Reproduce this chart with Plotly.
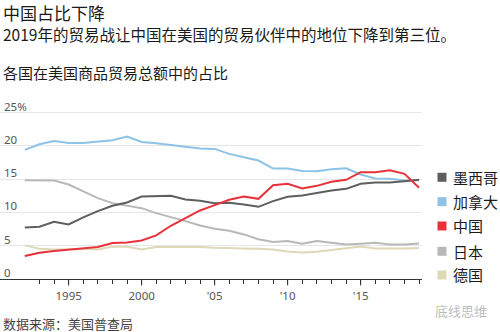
import plotly.graph_objects as go

years = list(range(1992, 2020))

canada = [19.4, 20.25, 20.75, 20.45, 20.45, 20.6, 20.85, 21.4, 20.6, 20.4,
          20.1, 19.85, 19.6, 19.55, 18.8, 18.3, 17.8, 16.6, 16.6, 16.25,
          16.2, 16.5, 16.65, 15.7, 15.1, 15.05, 14.8, 14.85]
mexico = [7.75, 7.85, 8.6, 8.2, 9.25, 10.2, 11.0, 11.5, 12.4, 12.4,
          12.5, 11.95, 11.75, 11.4, 11.45, 11.2, 10.85, 11.7, 12.35, 12.55,
          12.95, 13.3, 13.55, 14.3, 14.5, 14.5, 14.7, 14.9]
china = [3.45, 3.95, 4.2, 4.4, 4.55, 4.8, 5.4, 5.5, 5.8, 6.55,
         8.0, 9.2, 10.3, 11.1, 11.9, 12.4, 12.05, 14.1, 14.3, 13.6,
         14.0, 14.6, 14.9, 16.05, 16.05, 16.35, 15.8, 13.7]
japan = [14.85, 14.85, 14.8, 14.2, 13.2, 12.15, 11.4, 11.0, 10.65, 9.9,
         9.35, 8.7, 8.05, 7.55, 7.25, 6.7, 5.97, 5.57, 5.72, 5.3,
         5.7, 5.45, 5.2, 5.3, 5.45, 5.2, 5.2, 5.35]
germany = [5.05, 4.55, 4.45, 4.5, 4.5, 4.45, 4.9, 4.85, 4.45, 4.8,
           4.8, 4.9, 4.8, 4.7, 4.7, 4.6, 4.55, 4.45, 4.15, 4.0,
           4.1, 4.4, 4.6, 4.9, 4.6, 4.55, 4.6, 4.65]

y_ticks = [0, 5, 10, 15, 20, 25]
y_ticktext = ["0", "5", "10", "15", "20", "25%"]
x_ticks = list(range(1993, 2020))
x_labels = {1995: "1995", 2000: "2000", 2005: "'05", 2010: "'10", 2015: "'15"}
x_ticktext = [x_labels.get(y, "") for y in x_ticks]

series = [
    ("德国", germany, "#ddd8b6"),
    ("日本", japan, "#b8b8b8"),
    ("加拿大", canada, "#8cc3e6"),
    ("墨西哥", mexico, "#5e5e5e"),
    ("中国", china, "#e8313b"),
]
legend_order = ["墨西哥", "加拿大", "中国", "日本", "德国"]
colors = {n: c for n, _, c in series}

FONT = "Noto Sans CJK SC"
LATIN = "Noto Sans"

fig = go.Figure()
for name, vals, col in series:
    fig.add_trace(go.Scatter(x=years, y=vals, mode="lines", name=name,
                             line=dict(color=col, width=2), showlegend=False,
                             hoverinfo="skip"))

W, H = 500, 332
YMAX = 26.0
L, R, B = 0, 78, 53
ph = (279 - 112.7) * YMAX / 25
T = H - B - ph
pw = W - L - R


def px(x):
    return (x - L) / pw


def py(y):
    return (H - B - y) / ph


annotations = [
    dict(text="中国占比下降", x=px(1), y=py(12.5), font=dict(size=17, color="#1a1a1a")),
    dict(text="2019年的贸易战让中国在美国的贸易伙伴中的地位下降到第三位。", x=px(1), y=py(34),
         font=dict(size=15.5, color="#1a1a1a")),
    dict(text="各国在美国商品贸易总额中的占比", x=px(1), y=py(72.7),
         font=dict(size=15, color="#1a1a1a")),
    dict(text="数据来源：美国普查局", x=px(1), y=py(323),
         font=dict(size=13, color="#444444")),
    dict(text="底线思维", x=px(433), y=py(310),
         font=dict(size=13, color="#bdbdbd")),
]
shapes = []
leg_y = [177.3, 201.7, 226, 251.3, 275]
for name, ly in zip(legend_order, leg_y):
    shapes.append(dict(type="rect", xref="paper", yref="paper",
                       x0=px(437.5), x1=px(446.5), y0=py(ly + 4.5), y1=py(ly - 4.5),
                       fillcolor=colors[name], line=dict(width=0)))
    annotations.append(dict(text=name, x=px(451), y=py(ly),
                            font=dict(size=15, color="#1a1a1a")))

for a in annotations:
    a.update(xref="paper", yref="paper", xanchor="left", yanchor="middle",
             showarrow=False)
    a["font"]["family"] = FONT

# y tick labels, sitting just above their grid lines
for v, t in zip(y_ticks, y_ticktext):
    annotations.append(dict(text=t, xref="paper", yref="y", x=px(2), y=v,
                            xanchor="left", yanchor="middle", yshift=6.5,
                            showarrow=False,
                            font=dict(size=11.5, color="#555555", family=LATIN)))

# longer tick marks at the labelled years
for yr in x_labels:
    shapes.append(dict(type="line", xref="x", yref="paper", x0=yr, x1=yr,
                       y0=0, y1=-6.5 / ph, line=dict(color="#333333", width=1)))

fig.update_layout(
    width=W, height=H,
    margin=dict(l=L, r=R, t=T, b=B, pad=0),
    paper_bgcolor="white", plot_bgcolor="white",
    font=dict(family=FONT, color="#555555"),
    annotations=annotations,
    shapes=shapes,
    xaxis=dict(range=[1990.3, 2019.2], tickmode="array", tickvals=x_ticks,
               ticktext=x_ticktext, ticks="outside", ticklen=3.5, tickwidth=1,
               tickcolor="#333333", showline=True, linecolor="#333333",
               linewidth=1, showgrid=False, zeroline=False,
               ticklabelstandoff=3,
               tickfont=dict(size=11.5, color="#555555", family=LATIN)),
    yaxis=dict(range=[0, YMAX], tickmode="array", tickvals=y_ticks,
               showticklabels=False, ticks="", showline=False, zeroline=False,
               showgrid=True, gridcolor="#e6e6e6", gridwidth=1),
)

fig.write_html("out.html")
